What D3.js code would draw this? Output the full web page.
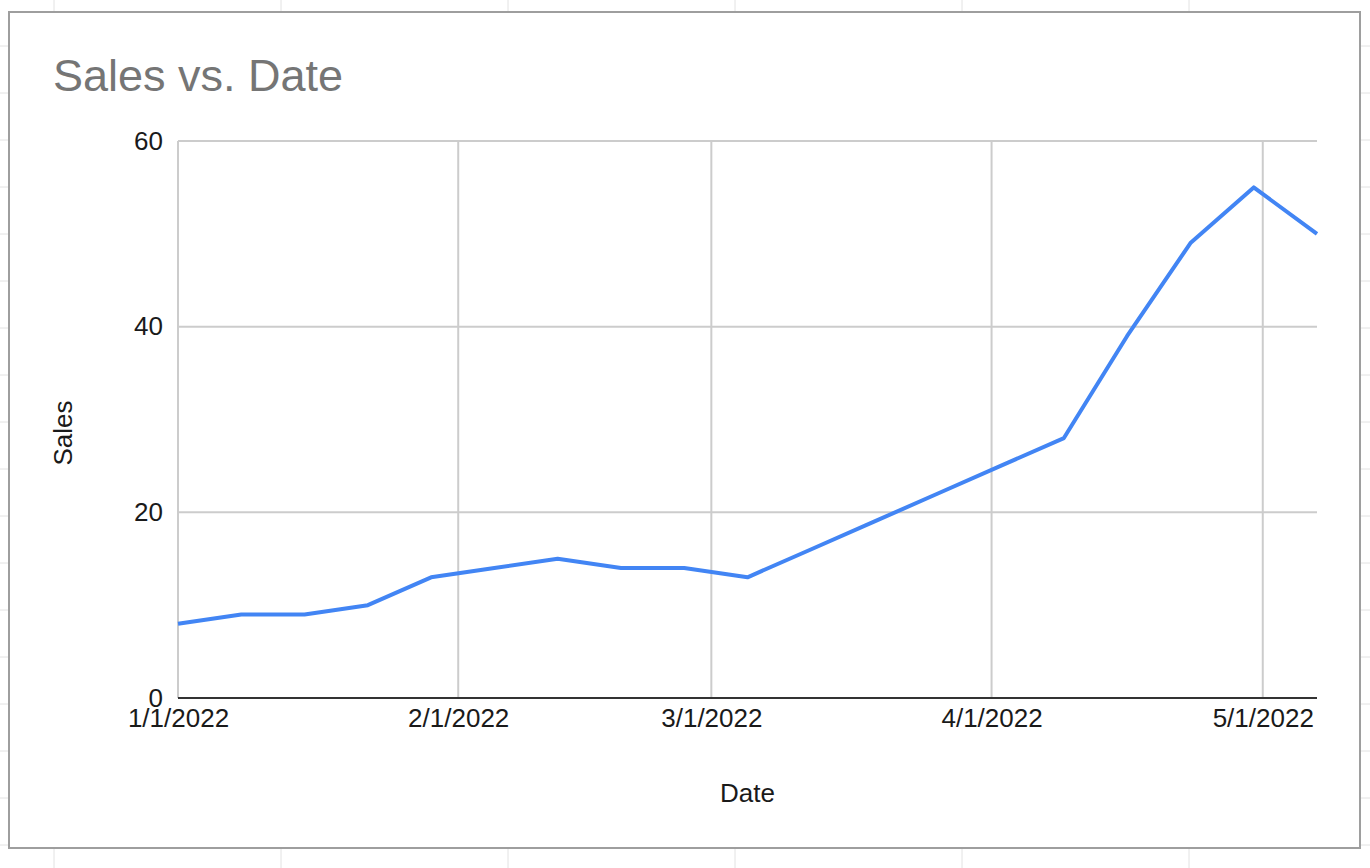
<!DOCTYPE html>
<html>
<head>
<meta charset="utf-8">
<script src="https://cdn.jsdelivr.net/npm/d3@7"></script>
<style>
  body { margin: 0; background: #fff; }
  svg { display: block; font-family: Arial, 'Liberation Sans', sans-serif; }
</style>
</head>
<body>
<div id="chart"></div>
<script>
// weekly data, starting 1/1/2022
var dates = ['2022-01-01', '2022-01-08', '2022-01-15', '2022-01-22', '2022-01-29',
  '2022-02-05', '2022-02-12', '2022-02-19', '2022-02-26', '2022-03-05',
  '2022-03-12', '2022-03-19', '2022-03-26', '2022-04-02', '2022-04-09',
  '2022-04-16', '2022-04-23', '2022-04-30', '2022-05-07']
var sales = [8, 9, 9, 10, 13, 14, 15, 14, 14, 13, 16, 19, 22, 25, 28, 39, 49, 55, 50]
var yTicks = [0, 20, 40, 60]
var xTickLabels = ['1/1/2022', '2/1/2022', '3/1/2022', '4/1/2022', '5/1/2022']

var data = dates.map((d, i) => ({date: new Date(d + 'T00:00:00Z'), value: sales[i]}))

var W = 1370, H = 868
var svg = d3.select('#chart').append('svg').attr('width', W).attr('height', H)

// spreadsheet cells behind the chart
svg.append('g').selectAll('line').data(d3.range(54, W, 227)).join('line')
  .attr('x1', d => d).attr('x2', d => d).attr('y1', 0).attr('y2', H)
  .attr('stroke', '#e2e2e2').attr('stroke-width', 1)
svg.append('g').selectAll('line').data(d3.range(46, H, 47)).join('line')
  .attr('x1', 0).attr('x2', W).attr('y1', d => d).attr('y2', d => d)
  .attr('stroke', '#e2e2e2').attr('stroke-width', 1)

// chart frame
svg.append('rect')
  .attr('x', 9).attr('y', 12).attr('width', 1351).attr('height', 836)
  .attr('fill', '#fff').attr('stroke', '#9e9e9e').attr('stroke-width', 2)

var margin = {left: 178, right: 53, top: 141, bottom: 170}
var x = d3.scaleUtc()
  .domain(d3.extent(data, d => d.date))
  .range([margin.left, W - margin.right])
var y = d3.scaleLinear()
  .domain([0, 60])
  .range([H - margin.bottom, margin.top])

var monthTicks = d3.utcMonth.range(new Date('2022-01-01T00:00:00Z'), new Date('2022-05-02T00:00:00Z'))

// gridlines
svg.append('g').selectAll('line').data(yTicks.slice(1)).join('line')
  .attr('x1', x.range()[0]).attr('x2', x.range()[1])
  .attr('y1', d => y(d)).attr('y2', d => y(d))
  .attr('stroke', '#cccccc').attr('stroke-width', 2)
svg.append('g').selectAll('line').data(monthTicks).join('line')
  .attr('x1', d => x(d)).attr('x2', d => x(d))
  .attr('y1', y(60)).attr('y2', y(0))
  .attr('stroke', '#cccccc').attr('stroke-width', 2)

// baseline
svg.append('line')
  .attr('x1', x.range()[0]).attr('x2', x.range()[1])
  .attr('y1', y(0)).attr('y2', y(0))
  .attr('stroke', '#333').attr('stroke-width', 2)

// axes labels
var yAxis = d3.axisLeft(y).tickValues(yTicks).tickSize(0).tickPadding(15)
svg.append('g').attr('transform', `translate(${margin.left},0)`).call(yAxis)
  .call(g => g.select('.domain').remove())
  .call(g => g.selectAll('text').attr('font-size', 26).attr('fill', '#1a1a1a').attr('font-family', null))

var xAxis = d3.axisBottom(x).tickValues(monthTicks).tickSize(0).tickPadding(11)
  .tickFormat((d, i) => xTickLabels[i])
svg.append('g').attr('transform', `translate(0,${y(0)})`).call(xAxis)
  .call(g => g.select('.domain').remove())
  .call(g => g.selectAll('text').attr('font-size', 26).attr('fill', '#1a1a1a').attr('font-family', null))

// line
var line = d3.line().x(d => x(d.date)).y(d => y(d.value))
svg.append('path').datum(data)
  .attr('d', line)
  .attr('fill', 'none')
  .attr('stroke', '#4285f4')
  .attr('stroke-width', 4)
  .attr('stroke-linejoin', 'round')

// titles
svg.append('text').text('Sales vs. Date')
  .attr('x', 53).attr('y', 91)
  .attr('font-size', 45).attr('fill', '#757575')
svg.append('text').text('Date')
  .attr('x', (x.range()[0] + x.range()[1]) / 2).attr('y', 802)
  .attr('text-anchor', 'middle').attr('font-size', 26).attr('fill', '#1a1a1a')
svg.append('text').text('Sales')
  .attr('transform', 'translate(72,433) rotate(-90)')
  .attr('text-anchor', 'middle').attr('font-size', 26).attr('fill', '#1a1a1a')
</script>
</body>
</html>
